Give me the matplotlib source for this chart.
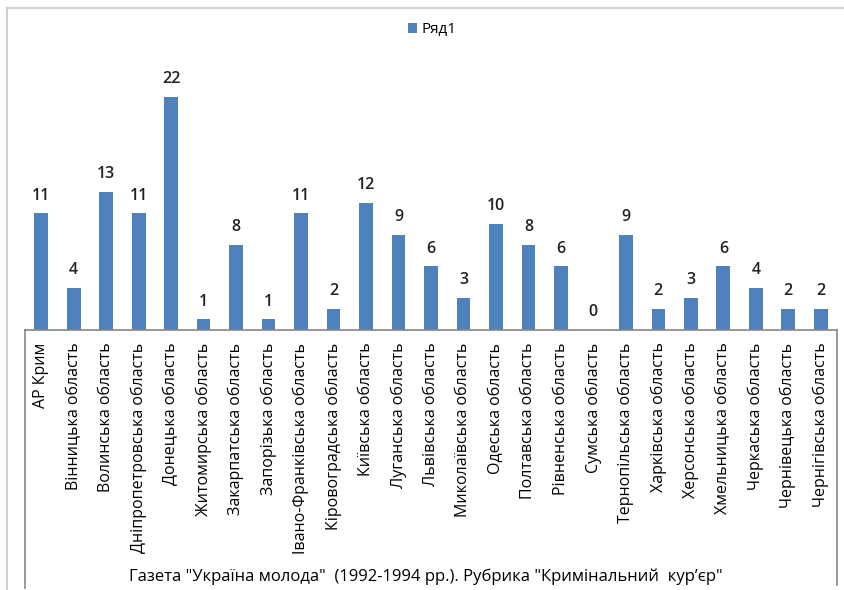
import matplotlib.pyplot as plt
from matplotlib.lines import Line2D

# 데이터
regions = ['АР Крим', 'Вінницька область', 'Волинська область', 'Дніпропетровська область',
           'Донецька область', 'Житомирська область', 'Закарпатська область', 'Запорізька область',
           'Івано-Франківська область', 'Кіровоградська область', 'Київська область',
           'Луганська область', 'Львівська область', 'Миколаївська область', 'Одеська область',
           'Полтавська область', 'Рівненська область', 'Сумська область', 'Тернопільська область',
           'Харківська область', 'Херсонська область', 'Хмельницька область', 'Черкаська область',
           'Чернівецька область', 'Чернігівська область']
counts = [11, 4, 13, 11, 22, 1, 8, 1, 11, 2, 12, 9, 6, 3, 10, 8, 6, 0, 9, 2, 3, 6, 4, 2, 2]
series_name = 'Ряд1'
x_title = 'Газета "Україна молода"  (1992-1994 рр.). Рубрика "Кримінальний  кур’єр"'

plt.rcParams['font.family'] = ['Open Sans', 'DejaVu Sans']

W, H = 845, 590
fig = plt.figure(figsize=(W / 100, H / 100), dpi=100)
fig.patch.set_facecolor('white')

# 축 영역 (픽셀 기준)
x0, x1, y_base, y_top = 25, 837, 330, 65
ax = fig.add_axes([x0 / W, 1 - y_base / H, (x1 - x0) / W, (y_base - y_top) / H])

xs = range(len(regions))
bars = ax.bar(xs, counts, width=0.42, color='#4f81bd', label=series_name)
for x, v in zip(xs, counts):
    ax.annotate(str(v), (x, v), xytext=(0, 7), textcoords='offset points',
                ha='center', va='bottom', fontsize=11.5, fontweight='semibold', color='#222222')

ax.set_xlim(-0.5, len(regions) - 0.5)
ax.set_ylim(0, 25)
ax.set_yticks([])
ax.set_xticks(list(xs))
ax.set_xticklabels(regions, rotation=90, fontsize=11.5, color='black')
ax.tick_params(axis='x', length=0, pad=9)
for s in ['top', 'left', 'right']:
    ax.spines[s].set_visible(False)
ax.spines['bottom'].set_color('#868686')
ax.spines['bottom'].set_linewidth(1.2)

# 범례
ax.legend(loc='center', bbox_to_anchor=(432 / W, 1 - 30 / H), bbox_transform=fig.transFigure,
          frameon=False, fontsize=11, handlelength=0.6, handleheight=0.6, handletextpad=0.3)

# 하단 제목
fig.text(426 / W, 1 - 577 / H, x_title, ha='center', va='center', fontsize=12, color='black')

# 카테고리 축 상자 선
def fline(xa, ya, xb, yb, color, lw):
    fig.add_artist(Line2D([xa / W, xb / W], [1 - ya / H, 1 - yb / H], color=color, lw=lw,
                          transform=fig.transFigure))

fline(x0, y_base, x0, 588, '#868686', 1.2)
fline(x1, y_base, x1, 585, '#868686', 1.2)
# 바깥 테두리
fline(7, 8, 7, 590, '#c8c8c8', 1.2)
fline(7, 8, 845, 8, '#c8c8c8', 1.2)

fig.savefig('out.png', dpi=100)
